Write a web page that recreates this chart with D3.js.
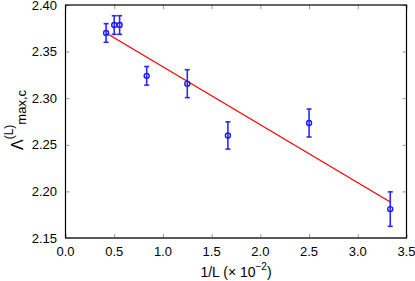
<!DOCTYPE html>
<html>
<head>
<meta charset="utf-8">
<script src="https://cdn.jsdelivr.net/npm/d3@7"></script>
<style>
  html, body { margin: 0; padding: 0; background: #fff; }
  svg text { font-family: "Liberation Sans", Arial, sans-serif; }
</style>
</head>
<body>
<svg id="chart" width="415" height="281"></svg>
<script>
// Data (1/L × 10^-2, Λ values, errors)
const xValues = [0.4167, 0.5, 0.5556, 0.8333, 1.25, 1.6667, 2.5, 3.3333];
const yValues = [2.370, 2.3785, 2.3785, 2.324, 2.3156, 2.260, 2.2734, 2.181];
const yErrors = [0.010, 0.010, 0.010, 0.010, 0.015, 0.0146, 0.015, 0.0185];
const fitX = [0.4167, 3.3333];
const fitY = [2.370, 2.1886];
const xTicks = [0.0, 0.5, 1.0, 1.5, 2.0, 2.5, 3.0, 3.5];
const yTicks = [2.15, 2.20, 2.25, 2.30, 2.35, 2.40];

const svg = d3.select("#chart");
const pLeft = 65.5, pRight = 406.5, pTop = 5, pBottom = 238;

const x = d3.scaleLinear().domain([0, 3.5]).range([pLeft, pRight]);
const y = d3.scaleLinear().domain([2.15, 2.40]).range([pBottom, pTop]);

// ticks (inside, mirrored)
const tickLen = 4;
const tickColor = "#999";
const g = svg.append("g");
const styleTicks = s => { s.select(".domain").remove(); s.selectAll("line").attr("stroke", tickColor); };
g.append("g").attr("transform", `translate(0,${pBottom})`)
  .call(d3.axisTop(x).tickValues(xTicks).tickSize(tickLen).tickFormat("")).call(styleTicks);
g.append("g").attr("transform", `translate(0,${pTop})`)
  .call(d3.axisBottom(x).tickValues(xTicks).tickSize(tickLen).tickFormat("")).call(styleTicks);
g.append("g").attr("transform", `translate(${pLeft},0)`)
  .call(d3.axisRight(y).tickValues(yTicks).tickSize(tickLen).tickFormat("")).call(styleTicks);
g.append("g").attr("transform", `translate(${pRight},0)`)
  .call(d3.axisLeft(y).tickValues(yTicks).tickSize(tickLen).tickFormat("")).call(styleTicks);

// tick labels
svg.append("g").selectAll("text").data(xTicks).join("text")
  .attr("x", d => x(d)).attr("y", 256)
  .attr("text-anchor", "middle").attr("font-size", 13).attr("fill", "#000")
  .text(d => d.toFixed(1));
svg.append("g").selectAll("text").data(yTicks).join("text")
  .attr("x", 57).attr("y", d => y(d)).attr("dy", "0.35em")
  .attr("text-anchor", "end").attr("font-size", 13).attr("fill", "#000")
  .text(d => d.toFixed(2));

// frame
svg.append("rect").attr("x", pLeft).attr("y", pTop)
  .attr("width", pRight - pLeft).attr("height", pBottom - pTop)
  .attr("fill", "none").attr("stroke", "#000").attr("stroke-width", 1.2);
svg.append("line").attr("x1", pLeft).attr("x2", pRight).attr("y1", pBottom).attr("y2", pBottom)
  .attr("stroke", "#555").attr("stroke-width", 1.3);

// fit line
svg.append("line")
  .attr("x1", x(fitX[0])).attr("y1", y(fitY[0]))
  .attr("x2", x(fitX[1])).attr("y2", y(fitY[1]))
  .attr("stroke", "#ff0000").attr("stroke-width", 1.3);

// error bars
const pts = xValues.map((v, i) => ({ x: v, y: yValues[i], e: yErrors[i] }));
const eb = svg.append("g").attr("stroke", "#2a2aff").attr("stroke-width", 1.6);
pts.forEach(p => {
  const cx = x(p.x), y1 = y(p.y + p.e), y2 = y(p.y - p.e);
  eb.append("line").attr("x1", cx).attr("x2", cx).attr("y1", y1).attr("y2", y2);
  eb.append("line").attr("x1", cx - 2.5).attr("x2", cx + 2.5).attr("y1", y1).attr("y2", y1);
  eb.append("line").attr("x1", cx - 2.5).attr("x2", cx + 2.5).attr("y1", y2).attr("y2", y2);
});
svg.append("g").selectAll("circle").data(pts).join("circle")
  .attr("cx", d => x(d.x)).attr("cy", d => y(d.y)).attr("r", 2.5)
  .attr("fill", "none").attr("stroke", "#1a1aff").attr("stroke-width", 1.4);

// x label
const xl = svg.append("text").attr("x", 236).attr("y", 277)
  .attr("text-anchor", "middle").attr("font-size", 14).attr("fill", "#000");
xl.append("tspan").text("1/L (\u00d7 10");
xl.append("tspan").attr("dy", -7).attr("font-size", 10).text("\u22122");
xl.append("tspan").attr("dy", 7).text(")");

// y label
const yl = svg.append("text").attr("transform", "translate(23,120) rotate(-90)")
  .attr("text-anchor", "middle").attr("fill", "#000");
yl.append("tspan").attr("font-size", 16).text("\u039b");
yl.append("tspan").attr("font-size", 12).attr("dy", -10).text("(L)");
yl.append("tspan").attr("font-size", 13).attr("dy", 13).text("max,c");
</script>
</body>
</html>
